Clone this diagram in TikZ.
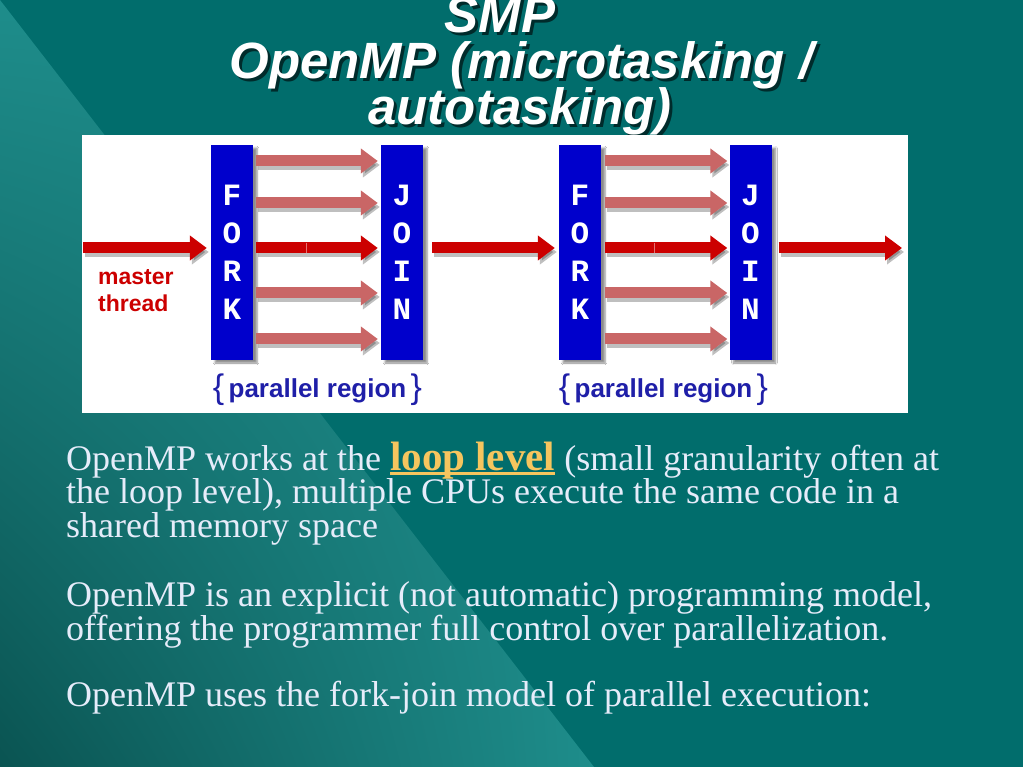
\documentclass[tikz,border=0pt]{standalone}
\usepackage{fontspec}
\setmainfont{Liberation Serif}
\newfontfamily\arialf{Liberation Sans}
\newfontfamily\courf{Liberation Mono}
\usetikzlibrary{arrows.meta,shadows.blur,shadings}
\definecolor{bgteal}{HTML}{016D6C}
\definecolor{wedgelight}{HTML}{1E8D8B}
\definecolor{wedgedark}{HTML}{0A5452}
\definecolor{forkblue}{HTML}{0000CC}
\definecolor{threadred}{HTML}{CC0000}
\definecolor{childpink}{HTML}{C96666}
\definecolor{regionblue}{HTML}{1F1FA8}
\definecolor{bodytext}{HTML}{E6ECFA}
\definecolor{loopyellow}{HTML}{F6C55E}
\newcommand\yellowul[1]{\setbox0\hbox{#1}\rlap{\rule[-5pt]{\wd0}{3pt}}\box0}
\tikzset{
  titletext/.style={font=\arialf\bfseries\itshape\fontsize{51}{51}\selectfont, inner sep=0pt, anchor=base},
  titlelight/.style={titletext, text=white},
  titledark/.style={titletext, text=black, opacity=.6},
  forkbox/.style={fill=forkblue, minimum width=42pt, minimum height=215pt, inner sep=0pt,
    text=white, font=\courf\bfseries\fontsize{31}{38}\selectfont, align=center,
    blur shadow={shadow xshift=4pt, shadow yshift=-3pt, shadow blur steps=5, shadow opacity=45}},
  threadarrow/.style={draw=threadred, line width=11pt, -{Triangle[length=17pt,width=24pt]}},
  childarrow/.style={draw=childpink, line width=11pt, -{Triangle[length=17pt,width=24pt]}},
  arrowshadow/.style={draw=black, opacity=.25, line width=11pt, -{Triangle[length=17pt,width=24pt]},
    transform canvas={shift={(2pt,-4pt)}}},
  masterlabel/.style={font=\arialf\bfseries\fontsize{23}{23}\selectfont, text=threadred, inner sep=0pt, anchor=base west},
  regionlabel/.style={font=\arialf\bfseries\fontsize{26}{26}\selectfont, text=regionblue, inner sep=0pt, anchor=base},
  bodyline/.style={anchor=base west, inner sep=0pt, text=bodytext, font=\fontsize{36}{36}\selectfont}
}
\newcommand\regionbrace[1]{{\mdseries\fontsize{34}{34}\selectfont\raisebox{-1pt}{#1}}}
\begin{document}
\begin{tikzpicture}[x=1pt,y=-1pt]
\useasboundingbox (0,0) rectangle (1023,767);
% background
\fill[bgteal] (0,0) rectangle (1023,767);
\shade[upper left=wedgelight, upper right=wedgelight, lower right=wedgelight, lower left=wedgedark]
  (0,0) -- (594,767) -- (0,767) -- cycle;
% title
\node[titledark] (t1s) at (503,36) {SMP};
\node[titledark] (t2s) at (524.5,82) {OpenMP (microtasking /};
\node[titledark] (t3s) at (523,128) {autotasking)};
\node[titlelight] (t1) at (500,33) {SMP};
\node[titlelight] (t2) at (521.5,79) {OpenMP (microtasking /};
\node[titlelight] (t3) at (520,125) {autotasking)};
% white panel
\node[fill=white, inner sep=0pt, minimum width=826pt, minimum height=278pt] (panel) at (495,274) {};
% fork / join boxes
\node[forkbox] (fork1) at (232,252.5) {F\\O\\R\\K};
\node[forkbox] (join1) at (402,252.5) {J\\O\\I\\N};
\node[forkbox] (fork2) at (580,252.5) {F\\O\\R\\K};
\node[forkbox] (join2) at (750.5,252.5) {J\\O\\I\\N};
% rows
\coordinate (r1) at (0,161);
\coordinate (r2) at (0,203);
\coordinate (r3) at (0,248);
\coordinate (r4) at (0,293);
\coordinate (r5) at (0,339);
\coordinate (mstart) at (83,248);
\coordinate (mend) at (902,248);
% arrow shadows
\draw[arrowshadow, shorten >=4pt] (mstart) -- (fork1.west |- r3);
\draw[arrowshadow, shorten <=9pt, shorten >=4pt] (join1.east |- r3) -- (fork2.west |- r3);
\draw[arrowshadow, shorten <=7pt] (join2.east |- r3) -- (mend);
\foreach \r in {r1,r2,r3,r4,r5}{
  \draw[arrowshadow, shorten <=3pt, shorten >=3pt] (fork1.east |- \r) -- (join1.west |- \r);
  \draw[arrowshadow, shorten <=4pt, shorten >=2pt] (fork2.east |- \r) -- (join2.west |- \r);
}
% arrows
\draw[threadarrow, shorten >=4pt] (mstart) -- (fork1.west |- r3);
\draw[threadarrow, shorten <=9pt, shorten >=4pt] (join1.east |- r3) -- (fork2.west |- r3);
\draw[threadarrow, shorten <=7pt] (join2.east |- r3) -- (mend);
\foreach \r in {r1,r2,r4,r5}{
  \draw[childarrow, shorten <=3pt, shorten >=3pt] (fork1.east |- \r) -- (join1.west |- \r);
  \draw[childarrow, shorten <=4pt, shorten >=2pt] (fork2.east |- \r) -- (join2.west |- \r);
}
\draw[threadarrow, shorten <=3pt, shorten >=3pt] (fork1.east |- r3) -- (join1.west |- r3);
\draw[threadarrow, shorten <=4pt, shorten >=2pt] (fork2.east |- r3) -- (join2.west |- r3);
\draw[white, opacity=.45, line width=0.8pt] (306,243) -- (306,253);
\draw[white, opacity=.45, line width=0.8pt] (654,243) -- (654,253);
% labels
\node[masterlabel] (masterA) at (98,285) {master};
\node[masterlabel] (masterB) at (98,312) {thread};
\node[regionlabel] (reg1) at (317.5,397) {\regionbrace{\{}\,parallel region\,\regionbrace{\}}};
\node[regionlabel] (reg2) at (663.5,397) {\regionbrace{\{}\,parallel region\,\regionbrace{\}}};
% body text
\node[bodyline] (p1a) at (66,470) {OpenMP works at the {\fontsize{41}{41}\selectfont\bfseries\color{loopyellow}\yellowul{loop level}} (small granularity often at};
\node[bodyline] (p1b) at (66,503.5) {the loop level), multiple CPUs execute the same code in a};
\node[bodyline] (p1c) at (66,537) {shared memory space};
\node[bodyline] (p2a) at (66,606) {OpenMP is an explicit (not automatic) programming model,};
\node[bodyline] (p2b) at (66,640) {offering the programmer full control over parallelization.};
\node[bodyline] (p3) at (66,706) {OpenMP uses the fork-join model of parallel execution:};
\end{tikzpicture}
\end{document}
